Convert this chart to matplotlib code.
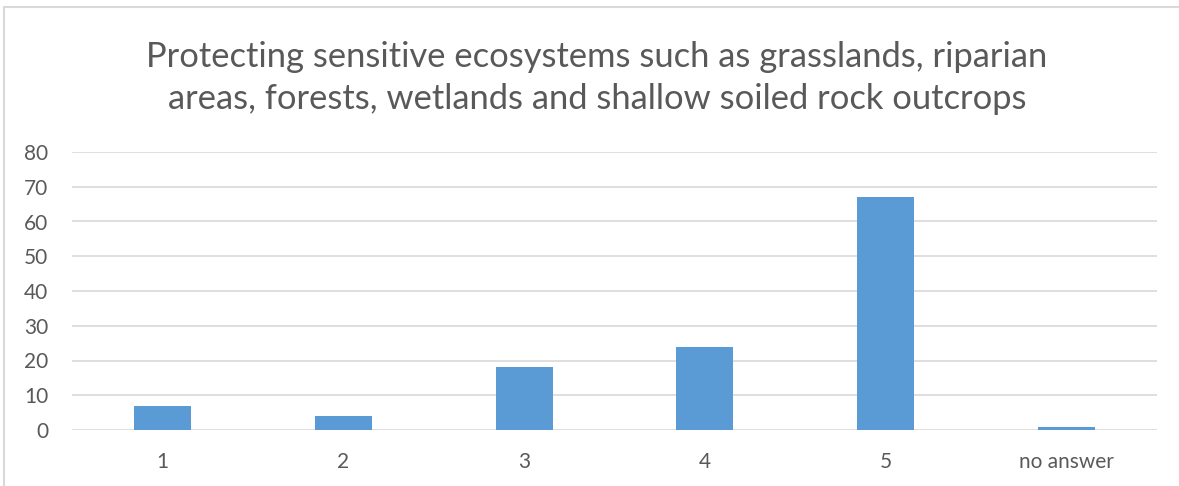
import matplotlib
matplotlib.use("Agg")
import matplotlib.pyplot as plt
from matplotlib.patches import Rectangle

categories = ["1", "2", "3", "4", "5", "no answer"]
counts = [7, 4, 18, 24, 67, 1]
y_ticks = [0, 10, 20, 30, 40, 50, 60, 70, 80]
title = ("Protecting sensitive ecosystems such as grasslands, riparian\n"
         "areas, forests, wetlands and shallow soiled rock outcrops")

W, H = 1179, 486
fig = plt.figure(figsize=(W / 100, H / 100), dpi=100)
plt.rcParams["font.family"] = ["Lato", "DejaVu Sans"]
text_color = "#595959"

# chart frame border (light gray)
fig.patches.append(Rectangle((4 / W, -0.1), 1.2, (H - 7) / H + 0.1,
                             transform=fig.transFigure, fill=False,
                             edgecolor="#d9d9d9", linewidth=1.5))

ax = fig.add_axes([72 / W, (H - 430) / H, (1157 - 72) / W, (430 - 152) / H])
x = list(range(len(categories)))
ax.bar(x, counts, width=0.315, color="#5b9bd5", zorder=3)
ax.set_xlim(-0.5, len(categories) - 0.5)
ax.set_ylim(0, 80)
ax.set_yticks(y_ticks)
ax.set_xticks(x)
ax.set_xticklabels(categories)
ax.grid(axis="y", color="#d9d9d9", linewidth=1.2, zorder=0)
for s in ax.spines.values():
    s.set_visible(False)
ax.tick_params(length=0, labelsize=15, colors=text_color)
ax.tick_params(axis="x", pad=16)
ax.tick_params(axis="y", pad=17)
for lbl in ax.get_yticklabels():
    lbl.set_horizontalalignment("right")

fig.text(597 / W, 1 - 78 / H, title, ha="center", va="center",
         fontsize=24.8, color=text_color, linespacing=1.42)

fig.savefig("out.png", dpi=100)
